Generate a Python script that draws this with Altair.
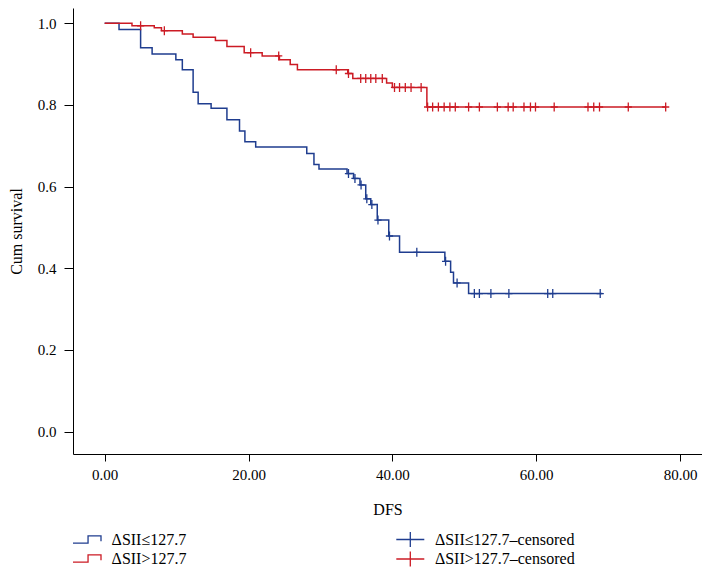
import altair as alt
import pandas as pd

# ---- data ----
grp_low = "ΔSII≤127.7"
grp_high = "ΔSII>127.7"
cens_low = "ΔSII≤127.7\u2013censored"
cens_high = "ΔSII>127.7\u2013censored"

# step times and survival (low group)
t_low = [0, 2.0, 5.0, 6.6, 9.9, 10.8, 12.3, 13.0, 14.8, 17.0, 18.75, 19.5, 21.0,
         28.1, 29.1, 29.8, 33.7, 34.6, 35.5, 36.3, 37.0, 37.9, 39.5, 41.0, 47.3,
         48.1, 48.5, 50.6]
s_low = [1.0, 0.985, 0.940, 0.925, 0.911, 0.886, 0.831, 0.803, 0.792, 0.764, 0.736,
         0.710, 0.697, 0.681, 0.654, 0.643, 0.632, 0.620, 0.604, 0.570, 0.556, 0.518,
         0.479, 0.439, 0.417, 0.390, 0.364, 0.338]
end_low = 69.2
c_low = [33.9, 34.8, 35.65, 36.45, 37.15, 38.0, 39.6, 43.4, 47.4, 49.0, 51.4, 52.1,
         53.7, 56.2, 61.6, 62.3, 68.9]

# step times and survival (high group)
t_high = [0, 3.8, 6.9, 7.9, 10.8, 12.3, 15.4, 17.0, 19.4, 21.9, 24.3, 25.8, 26.8,
          33.8, 34.5, 39.2, 40.0, 44.8]
s_high = [1.0, 0.994, 0.989, 0.982, 0.974, 0.966, 0.958, 0.943, 0.928, 0.920, 0.911,
          0.899, 0.886, 0.877, 0.865, 0.854, 0.843, 0.795]
end_high = 78.0
c_high = [5.0, 8.3, 20.3, 24.2, 32.2, 33.9, 35.6, 36.3, 37.0, 37.7, 38.6, 40.3, 41.0,
          41.8, 42.6, 44.0, 44.9, 45.6, 46.4, 47.2, 48.0, 48.75, 50.6, 52.1, 54.6,
          56.1, 56.8, 58.3, 59.2, 59.9, 62.5, 67.2, 68.0, 68.8, 72.8, 78.0]

x_ticks = [0, 20, 40, 60, 80]
y_ticks = [0.0, 0.2, 0.4, 0.6, 0.8, 1.0]

BLUE = "#1f3d8f"
RED = "#cc1b24"
FONT = "Liberation Serif"


def surv_at(ts, ss, t):
    v = ss[0]
    for ti, si in zip(ts, ss):
        if ti <= t:
            v = si
    return v


rows = []
for g, ts, ss, e in [(grp_low, t_low, s_low, end_low), (grp_high, t_high, s_high, end_high)]:
    for ti, si in zip(ts, ss):
        rows.append({"t": ti, "S": si, "group": g})
    rows.append({"t": e, "S": ss[-1], "group": g})
lines_df = pd.DataFrame(rows)

crow = []
for g, ts, ss, cs in [(cens_low, t_low, s_low, c_low), (cens_high, t_high, s_high, c_high)]:
    for c in cs:
        crow.append({"t": c, "S": surv_at(ts, ss, c), "cgroup": g})
cens_df = pd.DataFrame(crow)

xscale = alt.Scale(domain=[-4.4, 83.05], nice=False, zero=False)
yscale = alt.Scale(domain=[-0.055, 1.0375], nice=False, zero=False)

xaxis = alt.Axis(values=x_ticks, format=".2f", title="DFS", grid=False,
                 tickSize=7, labelPadding=6, titlePadding=19,
                 labelFontSize=15, titleFontSize=16, labelFont=FONT, titleFont=FONT,
                 titleFontWeight="normal", domainColor="black", tickColor="black",
                 labelColor="black", titleColor="black", labelFlush=False)
yaxis = alt.Axis(values=y_ticks, format=".1f", title="Cum survival", grid=False,
                 tickSize=9, labelPadding=8, titlePadding=13,
                 labelFontSize=15, titleFontSize=16, labelFont=FONT, titleFont=FONT,
                 titleFontWeight="normal", domainColor="black", tickColor="black",
                 labelColor="black", titleColor="black", labelFlush=False)

step_path = "M-1,0.53L1.15,0.53L1.15,-0.53L3,-0.53L3,0.25"
cross_legend_path = "M-1,0L3,0M1,-1.07L1,1.07"
cross_path = "M-0.8,0L0.8,0M0,-1L0,1"

lines = alt.Chart(lines_df).mark_line(interpolate="step-after", strokeWidth=1.5).encode(
    x=alt.X("t:Q", scale=xscale, axis=xaxis),
    y=alt.Y("S:Q", scale=yscale, axis=yaxis),
    color=alt.Color("group:N",
                    scale=alt.Scale(domain=[grp_low, grp_high], range=[BLUE, RED]),
                    legend=alt.Legend(title=None, orient="none", legendX=-1, legendY=523.5,
                                      symbolType=step_path, symbolSize=196,
                                      symbolStrokeWidth=1.3, symbolFillColor="transparent",
                                      labelFont=FONT, labelFontSize=16, labelColor="black",
                                      labelOffset=23.6, rowPadding=3, padding=0,
                                      labelLimit=400)),
)

cens = alt.Chart(cens_df).mark_point(shape=cross_path, size=81, filled=False,
                                     strokeWidth=1.3, opacity=1).encode(
    x=alt.X("t:Q", scale=xscale),
    y=alt.Y("S:Q", scale=yscale),
    color=alt.Color("cgroup:N",
                    scale=alt.Scale(domain=[cens_low, cens_high], range=[BLUE, RED]),
                    legend=alt.Legend(title=None, orient="none", legendX=322.3, legendY=523.5,
                                      symbolType=cross_legend_path, symbolSize=196,
                                      symbolStrokeWidth=1.3, symbolFillColor="transparent",
                                      labelFont=FONT, labelFontSize=16, labelColor="black",
                                      labelOffset=23.6, rowPadding=-2.5, padding=0,
                                      labelLimit=400)),
)

chart = alt.layer(lines, cens).resolve_scale(color="independent").properties(
    width=629, height=446, padding=0, background="white"
).configure_view(strokeWidth=0)

chart.save("out.html", embed_options={"renderer": "svg", "actions": False})
